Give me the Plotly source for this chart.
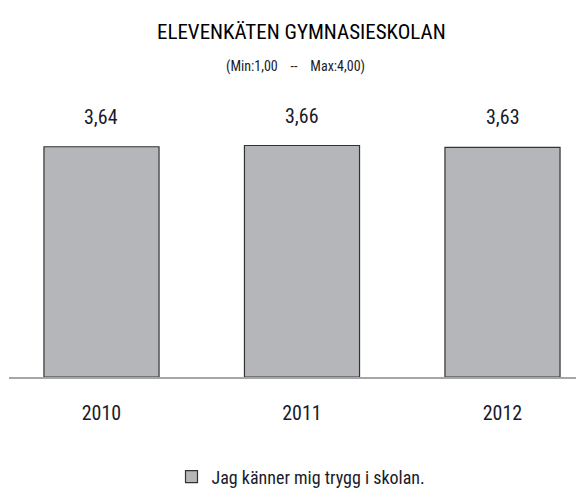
import plotly.graph_objects as go

categories = ["2010", "2011", "2012"]
values = [3.64, 3.66, 3.63]
value_labels = ["3,64", "3,66", "3,63"]
series_name = "Jag känner mig trygg i skolan."
title_text = "ELEVENKÄTEN GYMNASIESKOLAN"
subtitle_text = "(Min:1,00&nbsp;&nbsp;&nbsp; --&nbsp;&nbsp;&nbsp; Max:4,00)"

FONT = "Roboto Condensed"
TXT = "#1a1a2a"

fig = go.Figure()
fig.add_trace(go.Bar(
    x=categories, y=values, name=series_name,
    width=0.574,
    marker=dict(color="#b5b6ba", line=dict(color="#333333", width=1.2)),
    showlegend=True, hoverinfo="skip",
))

annotations = []
for i, (v, t) in enumerate(zip(values, value_labels)):
    annotations.append(dict(x=i, y=v, text=t, showarrow=False, xref="x", yref="y",
                            yanchor="bottom", yshift=16,
                            font=dict(family=FONT, size=20, color=TXT)))
annotations.append(dict(x=0.515, y=1.364, xref="paper", yref="paper", text=title_text,
                        showarrow=False, yanchor="middle",
                        font=dict(family=FONT, size=21, color="#000000")))
annotations.append(dict(x=0.506, y=1.229, xref="paper", yref="paper", text=subtitle_text,
                        showarrow=False, yanchor="middle",
                        font=dict(family=FONT, size=14, color=TXT)))

fig.update_layout(
    width=576, height=488,
    font=dict(family=FONT, color=TXT),
    margin=dict(l=9, r=0, t=124, b=111, autoexpand=False),
    paper_bgcolor="white", plot_bgcolor="white",
    annotations=annotations,
    xaxis=dict(type="category", range=[-0.4613, 2.3666], showline=True, linecolor="#a6a6a6",
               linewidth=2, showgrid=False, ticks="", ticklabelstandoff=17,
               tickfont=dict(family=FONT, size=20, color=TXT)),
    yaxis=dict(range=[0, 4], visible=False, showgrid=False),
    legend=dict(orientation="h", x=0.515, xanchor="center", y=-0.395,
                yanchor="middle", font=dict(family=FONT, size=18, color=TXT),
                itemwidth=30),
)

fig.write_html("out.html", config={"displayModeBar": False},
               post_script="document.body.style.margin='0';")
